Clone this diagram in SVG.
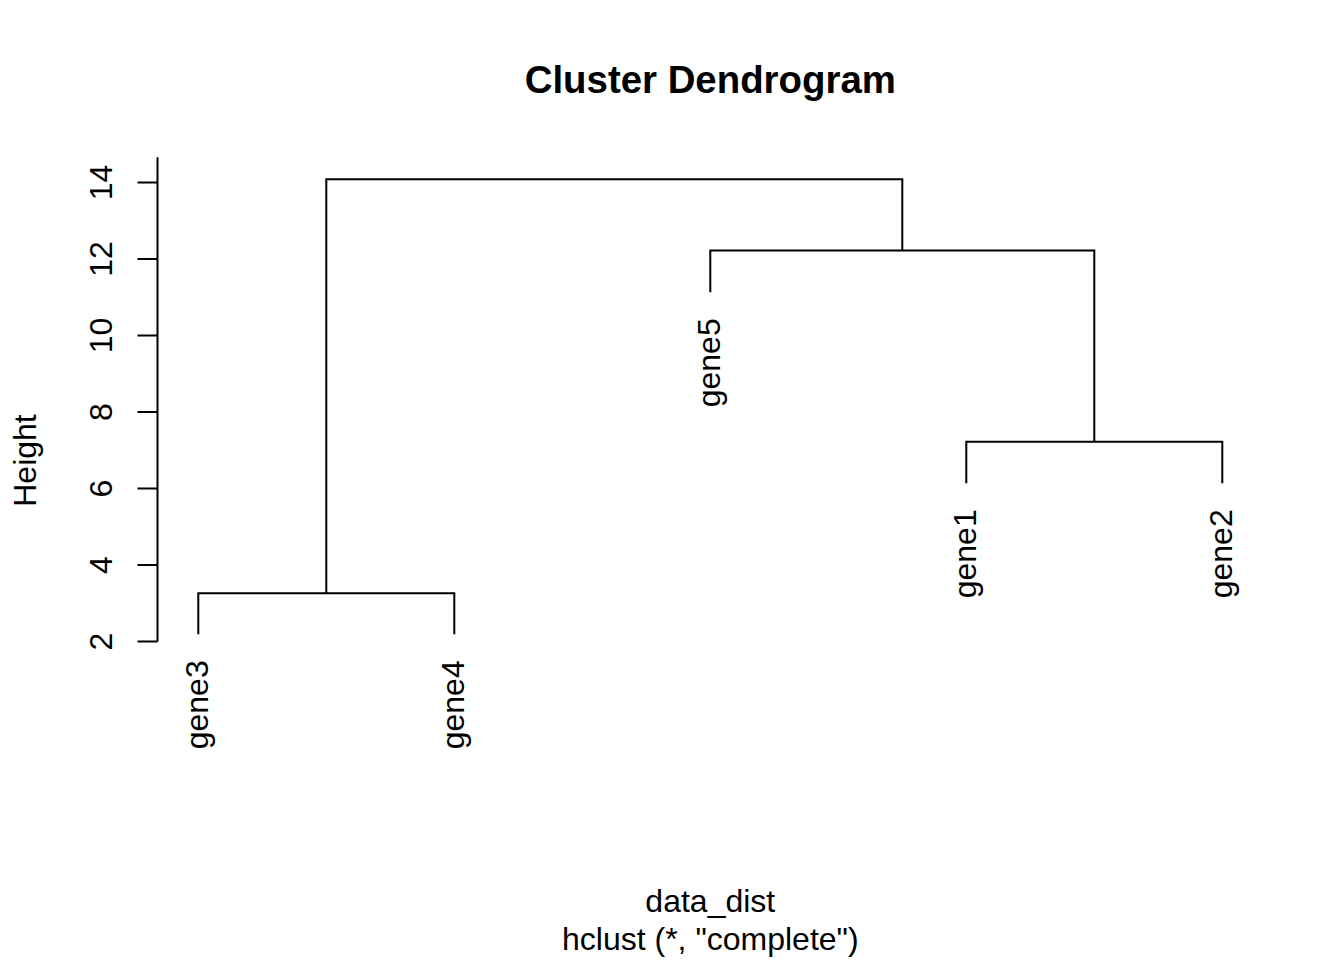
<svg xmlns="http://www.w3.org/2000/svg" width="1344" height="960" viewBox="0 0 1344 960">
<style>
text{font-family:"Liberation Sans",Arial,Helvetica,sans-serif;font-size:32px;fill:#000}
.title{font-size:38.4px;font-weight:bold}
.ln{stroke:#000;stroke-width:2;fill:none;stroke-linecap:butt}
</style>
<rect width="1344" height="960" fill="#fff"/>
<text class="title" x="710.3" y="93" text-anchor="middle">Cluster Dendrogram</text>
<g id="axis">
<path class="ln" d="M157.5,157.3V641.5M137.5,641.5H157.5M137.5,565H157.5M137.5,488.5H157.5M137.5,412H157.5M137.5,335.5H157.5M137.5,259H157.5M137.5,182.5H157.5"/>
<text transform="translate(111.5,641.5) rotate(-90)" text-anchor="middle">2</text>
<text transform="translate(111.5,565) rotate(-90)" text-anchor="middle">4</text>
<text transform="translate(111.5,488.5) rotate(-90)" text-anchor="middle">6</text>
<text transform="translate(111.5,412) rotate(-90)" text-anchor="middle">8</text>
<text transform="translate(111.5,335.5) rotate(-90)" text-anchor="middle">10</text>
<text transform="translate(111.5,259) rotate(-90)" text-anchor="middle">12</text>
<text transform="translate(111.5,182.5) rotate(-90)" text-anchor="middle">14</text>
<text transform="translate(35.5,460.5) rotate(-90)" text-anchor="middle">Height</text>
</g>
<g id="connectors">
<path class="ln" d="M198.3,634.3V593.3H454.3V634.3"/>
<path class="ln" d="M966.3,483.3V441.7H1222.3V483.3"/>
<path class="ln" d="M710.3,292.3V250.5H1094.3V441.7"/>
<path class="ln" d="M326.3,593.3V179.3H902.3V250.5"/>
</g>
<g id="gene3"><text transform="translate(207.8,660.3) rotate(-90)" text-anchor="end">gene3</text></g>
<g id="gene4"><text transform="translate(463.8,660.3) rotate(-90)" text-anchor="end">gene4</text></g>
<g id="gene5"><text transform="translate(719.8,318.3) rotate(-90)" text-anchor="end">gene5</text></g>
<g id="gene1"><text transform="translate(975.8,509.3) rotate(-90)" text-anchor="end">gene1</text></g>
<g id="gene2"><text transform="translate(1231.8,509.3) rotate(-90)" text-anchor="end">gene2</text></g>
<text x="710.3" y="911.5" text-anchor="middle">data_dist</text>
<text x="710.3" y="949.5" text-anchor="middle">hclust (*, "complete")</text>
</svg>
